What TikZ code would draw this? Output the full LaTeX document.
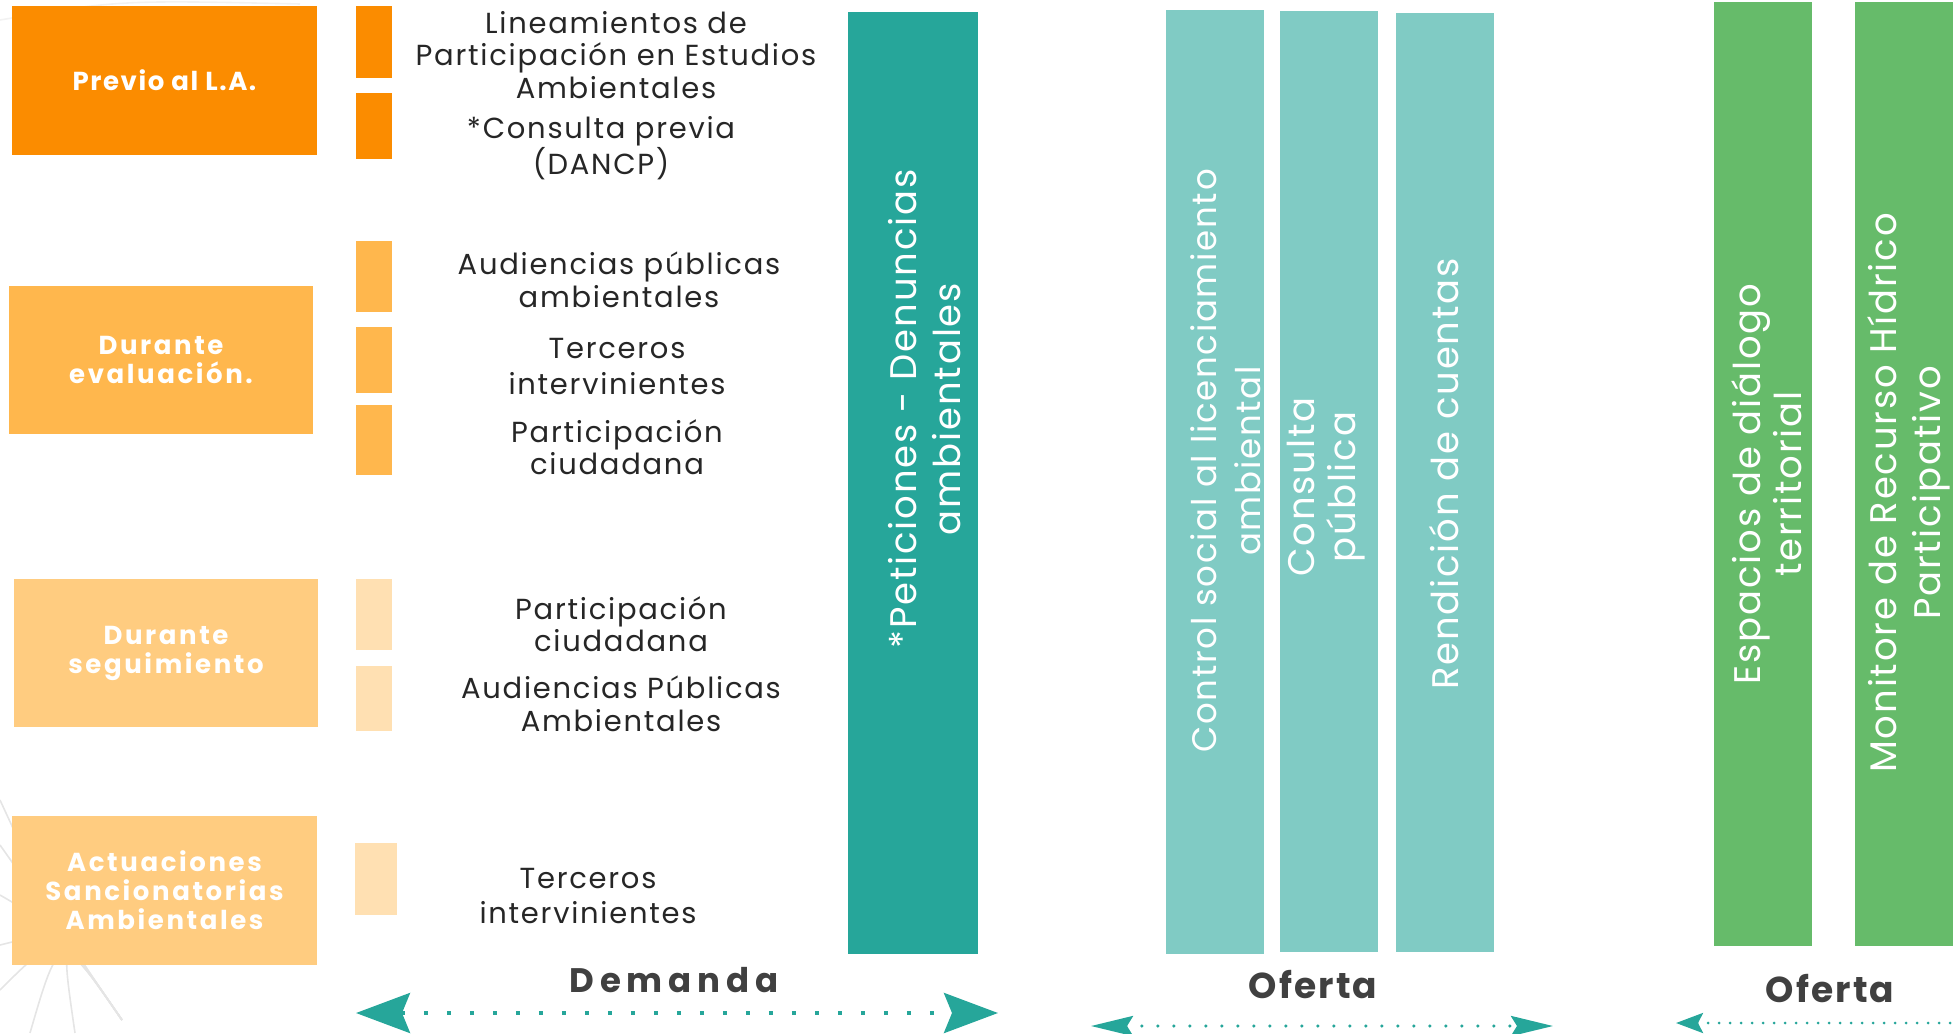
\documentclass[tikz,border=0pt]{standalone}
\usepackage{fontspec}
\setmainfont{Poppins}
\usepackage{tikz}
\usetikzlibrary{positioning,arrows.meta}

\definecolor{naranja}{HTML}{FB8C00}
\definecolor{naranjaB}{HTML}{FFB74D}
\definecolor{naranjaC}{HTML}{FFCC80}
\definecolor{naranjaD}{HTML}{FFE0B2}
\definecolor{tealO}{HTML}{26A69A}
\definecolor{tealC}{HTML}{80CBC4}
\definecolor{verde}{HTML}{66BB6A}
\definecolor{tinta}{HTML}{262626}
\definecolor{gris}{HTML}{404040}

\tikzset{
  fase/.style={fill=#1, text=white, align=center, inner sep=0pt,
    minimum width=305pt, minimum height=149pt,
    font=\fontsize{26}{29}\selectfont\bfseries\addfontfeatures{LetterSpace=10}},
  item/.style={text=tinta, align=center, inner sep=0pt,
    font=\fontsize{29}{32.5}\selectfont\addfontfeatures{LetterSpace=6}},
  vert/.style={text=white, align=center, inner sep=0pt, rotate=90,
    font=\fontsize{37}{44}\selectfont\addfontfeatures{LetterSpace=5}},
  lado/.style={text=gris, inner sep=0pt,
    font=\fontsize{36}{40}\selectfont\bfseries\addfontfeatures{LetterSpace=6}},
  punteada/.style={draw=tealO, line width=4pt, dash pattern=on 4pt off 19pt}
}

\begin{document}
\begin{tikzpicture}[x=1pt,y=-1pt]
\useasboundingbox (0,0) rectangle (1956,1033);

% Leaf sketch in the background
\foreach \a/\b in {0/800, 0/845, 0/895, 0/945, 0/990, 30/1033, 75/1033}
    \draw[gray!20, line width=1.6pt] (\a,\b) .. controls (60,930) .. (122,1020);
\draw[gray!10, line width=1.6pt] (0,20) .. controls (120,0) .. (300,4);

% Phases
\node[fase=naranja, font=\fontsize{26}{29}\selectfont\bfseries\addfontfeatures{LetterSpace=6}] (previo) at (164.5,80.5) {Previo al L.A.};
\node[fase=naranjaB, minimum width=304pt, minimum height=148pt] (evalua) at (161,360) {Durante\\evaluación.};
\node[fase=naranjaC, minimum width=304pt, minimum height=148pt] (segui) at (166,653) {Durante\\seguimiento};
\node[fase=naranjaC] (sancion) at (164.5,890.5) {Actuaciones\\Sancionatorias\\Ambientales};

% Small squares
\foreach \ya/\yb/\col in {6/78/naranja, 93/159/naranja, 241/312/naranjaB, 327/393/naranjaB,
    405/475/naranjaB, 579/650/naranjaD, 666/731/naranjaD}
    \fill[\col] (356,\ya) rectangle (392,\yb);
\fill[naranjaD] (355,843) rectangle (397,915);

% Mechanisms
\node[item] (linea) at (616,55) {Lineamientos de\\Participación en Estudios\\Ambientales};
\node[item, font=\fontsize{29}{36}\selectfont\addfontfeatures{LetterSpace=6}] (consulta) at (601,148) {*Consulta previa\\(DANCP)};
\node[item] (audi) at (619,280) {Audiencias públicas\\ambientales};
\node[item, font=\fontsize{29}{36}\selectfont\addfontfeatures{LetterSpace=6}] (terc) at (617,367) {Terceros\\intervinientes};
\node[item] (parti) at (617,447) {Participación\\ciudadana};
\node[item] (partiB) at (621,624) {Participación\\ciudadana};
\node[item] (audiB) at (621,704) {Audiencias Públicas\\Ambientales};
\node[item, font=\fontsize{29}{35}\selectfont\addfontfeatures{LetterSpace=6}] (tercB) at (588,896) {Terceros\\intervinientes};

% Bars
\fill[tealO] (848,12) rectangle (978,954);
\fill[tealC] (1166,10) rectangle (1264,954);
\fill[tealC] (1280,11) rectangle (1378,952);
\fill[tealC] (1396,13) rectangle (1494,952);
\fill[verde] (1714,2) rectangle (1812,946);
\fill[verde] (1855,2) rectangle (1953,946);

\node[vert] (peti) at (925,409) {*Peticiones - Denuncias\\ambientales};
\node[vert, font=\fontsize{34}{44}\selectfont\addfontfeatures{LetterSpace=5}] (control) at (1226,461) {Control social al licenciamiento\\ambiental};
\node[vert, font=\fontsize{37}{41}\selectfont\addfontfeatures{LetterSpace=5}] (cpub) at (1326,487) {Consulta\\pública};
\node[vert] (rendi) at (1444,474) {Rendición de cuentas};
\node[vert, font=\fontsize{37}{41}\selectfont\addfontfeatures{LetterSpace=5}] (espa) at (1767,484) {Espacios de diálogo\\territorial};
\node[vert] (moni) at (1909,493) {Monitore de Recurso Hídrico\\Participativo};

% Demand / offer
\node[lado, font=\fontsize{34}{40}\selectfont\bfseries\addfontfeatures{LetterSpace=17}] (demanda) at (674,980) {Demanda};
\node[lado] (oferta) at (1313,985) {Oferta};
\node[lado] (ofertaB) at (1830,989) {Oferta};

\coordinate (demI) at (356,1013);
\coordinate (demD) at (998,1013);
\coordinate (ofI) at (1091,1026);
\coordinate (ofD) at (1553,1026);
\coordinate (ofBI) at (1676,1023);
\coordinate (ofBD) at (1962,1023);

\draw[punteada, {Stealth[length=54pt, width=40pt, inset=8pt]}-{Stealth[length=54pt, width=40pt, inset=8pt]}] (demI) -- (demD);
\draw[draw=tealO, line width=3.5pt, line cap=round, dash pattern=on 0pt off 16pt,
    {Stealth[length=42pt, width=20pt, inset=6pt]}-{Stealth[length=42pt, width=20pt, inset=6pt]}] (ofI) -- (ofD);
\draw[draw=tealO, line width=3pt, line cap=round, dash pattern=on 0pt off 11pt,
    {Stealth[length=27pt, width=20pt, inset=5pt]}-] (ofBI) -- (ofBD);
\end{tikzpicture}
\end{document}
